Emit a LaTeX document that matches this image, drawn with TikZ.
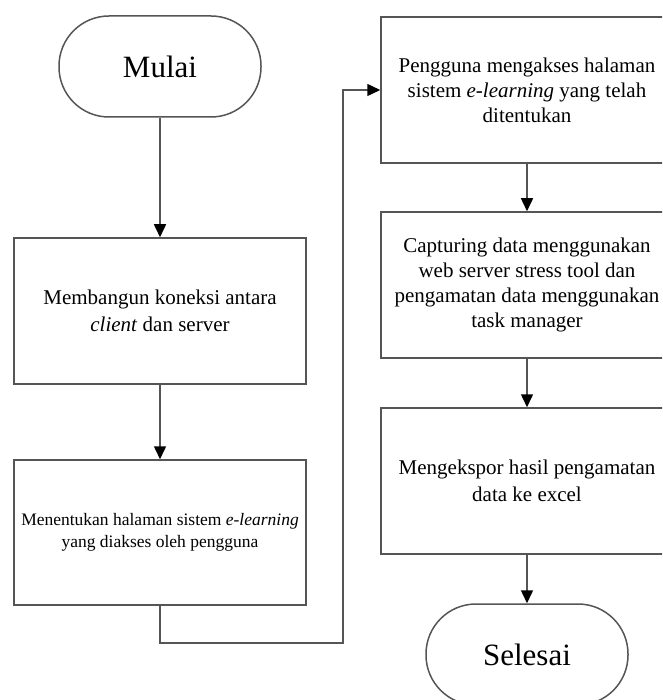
\documentclass[tikz,border=0pt]{standalone}
\usepackage{fontspec}
\setmainfont{Liberation Serif}
\usetikzlibrary{arrows.meta}
\definecolor{lc}{HTML}{555555}
\begin{document}
\begin{tikzpicture}[x=1pt,y=-1pt,
 line/.style={draw=lc, line width=1.5pt},
 proc/.style={line, rectangle, minimum width=292pt, minimum height=146pt, align=center, inner sep=0pt, font=\fontsize{21}{26}\selectfont},
 term/.style={line, rectangle, rounded corners=50pt, minimum width=202pt, minimum height=101pt, inner sep=0pt, font=\fontsize{31}{36}\selectfont},
 arr/.style={line, -{Triangle[length=13pt,width=12pt,fill=black,color=black]}}
]
\useasboundingbox (0,0) rectangle (662,700);
\clip (0,0) rectangle (662,700);
\fill[white] (0,0) rectangle (662,700);

\node[term] (mulai) at (160,66.5) {Mulai};
\node[proc, font=\fontsize{21}{27}\selectfont] (b1) at (160,311) {Membangun koneksi antara\\\textit{client} dan server};
\node[proc, minimum height=145pt, font=\fontsize{17.5}{22}\selectfont] (b2) at (160,532.5) {Menentukan halaman sistem \textit{e-learning}\\yang diakses oleh pengguna};
\node[proc, font=\fontsize{21}{25}\selectfont] (b3) at (527,90) {Pengguna mengakses halaman\\sistem \textit{e-learning} yang telah\\ditentukan};
\node[proc, font=\fontsize{21}{25.3}\selectfont] (b4) at (527,285) {Capturing data menggunakan\\web server stress tool dan\\pengamatan data menggunakan\\task manager};
\node[proc, font=\fontsize{21}{27}\selectfont] (b5) at (527,481) {Mengekspor hasil pengamatan\\data ke excel};
\node[term] (selesai) at (527,654.5) {Selesai};

\coordinate (j1) at (343,643);

\draw[arr] (mulai) -- (b1);
\draw[arr] (b1) -- (b2);
\draw[arr] (b2.south) |- (j1) |- (b3.west);
\draw[arr] (b3) -- (b4);
\draw[arr] (b4) -- (b5);
\draw[arr] (b5) -- (selesai);
\end{tikzpicture}
\end{document}
